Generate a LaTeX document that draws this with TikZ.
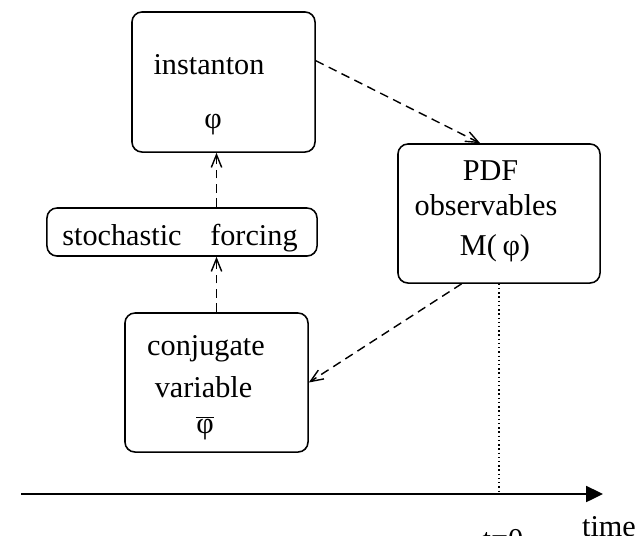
\documentclass[tikz,border=0pt]{standalone}
\usepackage{fontspec}
\setmainfont{Liberation Serif}
\usepackage{tikz}
\usetikzlibrary{arrows.meta,positioning,calc}

\begin{document}
\begin{tikzpicture}[
  x=0.025cm,y=-0.025cm,
  box/.style={draw,rounded corners=0.25cm,line width=1.1pt,inner sep=0pt},
  lbl/.style={font=\fontsize{21.5}{25}\selectfont,inner sep=0pt},
  link/.style={line width=1pt,dash pattern=on 0.22cm off 0.14cm,
    -{Straight Barb[length=0.32cm,width=0.26cm,line width=1pt]}},
  >=Stealth
]
\useasboundingbox (0,0) rectangle (635,535);
\node[box,minimum width=4.575cm,minimum height=3.5cm]   (inst)  at (223.5,82)  {};
\node[box,minimum width=6.75cm,minimum height=1.2cm]    (stoch) at (182,232)   {};
\node[box,minimum width=4.575cm,minimum height=3.475cm] (conj)  at (216.5,382.5) {};
\node[box,minimum width=5.05cm,minimum height=3.475cm]  (pdf)   at (499,213.5) {};
% box texts
\node[lbl] (instT)  at (209,64.5)  {instanton};
\node[lbl] (instP)  at (213,125)   {φ};
\node[lbl] (stochT) at (180,238.5) {stochastic\hspace{0.95em}forcing};
\node[lbl] (conjT)  at (206,348.5) {conjugate};
\node[lbl] (conjV)  at (203.5,387.5) {variable};
\node[lbl] (conjP)  at (205,428)   {$\overline{\mbox{φ}}$};
\node[lbl] (pdfT)   at (490.5,170.5) {PDF};
\node[lbl] (pdfO)   at (486,205.5) {observables};
\node[lbl] (pdfM)   at (495,248.5) {M(\kern4pt φ)};
% time axis
\coordinate (tstart) at (21,494);
\coordinate (tend)   at (603,494);
\draw[line width=1.2pt,-{Triangle[length=0.42cm,width=0.4cm]}] (tstart) -- (tend);
\node[lbl,anchor=base] (tzero) at (503,549) {t=0};
\node[lbl,anchor=base] (time)  at (609,536) {time};
% connectors
\draw[link] (inst.13.5) -- (pdf.105);
\draw[link] (pdf.242) -- (conj.east);
\draw[link] (conj.north) -- (conj.north |- stoch.south);
\draw[link] (conj.north |- stoch.north) -- (conj.north |- inst.south);
\draw[line width=1pt,dotted] (pdf.south) -- (pdf.south |- tstart);
\end{tikzpicture}
\end{document}
